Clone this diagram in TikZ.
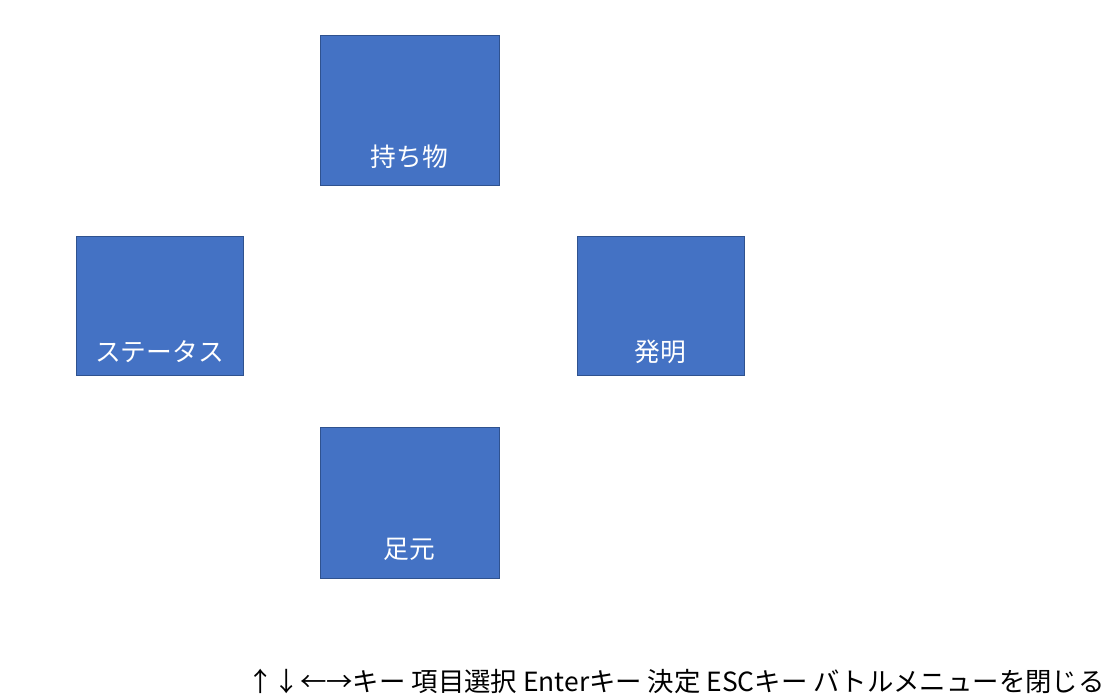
\documentclass[tikz,border=0pt]{standalone}
\usepackage{fontspec}
\setmainfont{Noto Sans CJK JP}
\usepackage{xcolor}
\definecolor{menufill}{RGB}{68,114,196}
\definecolor{menuedge}{RGB}{47,82,143}
\tikzset{
  menubox/.style={draw=menuedge, fill=menufill, line width=0.75pt, inner sep=0pt},
  boxlabel/.style={text=white, font=\fontsize{19.3}{22}\selectfont, inner sep=0.75pt},
}

\begin{document}
\begin{tikzpicture}[x=0.75pt,y=0.75pt,yscale=-1,xscale=1]
\useasboundingbox (0,0) rectangle (1107,698);

%Flowchart: Process [持ち物]
\node [menubox, minimum width=134.25pt, minimum height=112.5pt] (items) at (409.5,111) {};
%Flowchart: Process [ステータス]
\node [menubox, minimum width=125.25pt, minimum height=104.25pt] (status) at (159.5,306.5) {};
%Flowchart: Process [発明]
\node [menubox, minimum width=125.25pt, minimum height=104.25pt] (invent) at (660.5,306.5) {};
%Flowchart: Process [足元]
\node [menubox, minimum width=134.25pt, minimum height=112.5pt] (feet) at (409.5,503) {};

% Text Node
\node [boxlabel, anchor=base] (itemstext) at ([yshift=-15pt]items.south) {持ち物};
% Text Node
\node [boxlabel, anchor=base] (statustext) at ([yshift=-11.25pt]status.south) {ステータス};
% Text Node
\node [boxlabel, anchor=base] (inventtext) at ([yshift=-11.25pt]invent.south) {発明};
% Text Node
\node [boxlabel, anchor=base] (feettext) at ([yshift=-15pt]feet.south) {足元};

% Text Node
\node [anchor=base east, inner sep=0pt, font=\fontsize{19.8}{22}\selectfont] (help) at (1105,691) {↑↓←→キー 項目選択 Enterキー 決定 ESCキー バトルメニューを閉じる};

\end{tikzpicture}
\end{document}
